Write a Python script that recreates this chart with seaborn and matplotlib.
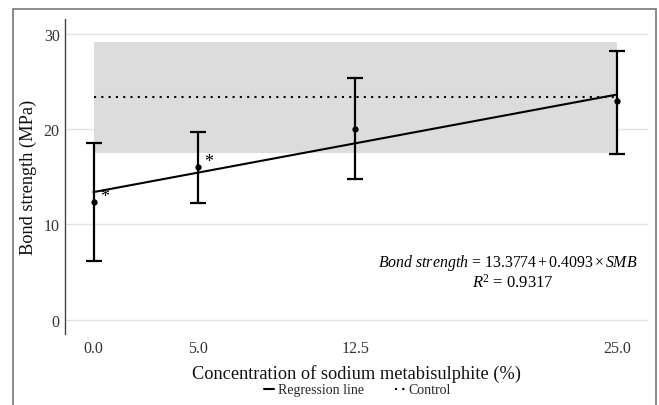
import numpy as np
import pandas as pd
import matplotlib.pyplot as plt
import seaborn as sns
from matplotlib.lines import Line2D
from matplotlib.patches import Rectangle

# datos
smb = [0.0, 5.0, 12.5, 25.0]
mean_strength = [12.3, 16.0, 20.0, 22.9]
err_low = [6.1, 12.2, 14.7, 17.4]
err_high = [18.5, 19.7, 25.3, 28.2]
control_mean = 23.3
control_low = 17.5
control_high = 29.1
intercept = 13.3774
slope = 0.4093
r2 = 0.9317
tick_labels = ['0.0', '5.0', '12.5', '25.0']

sns.set_theme(style='whitegrid')
plt.rcParams['font.family'] = ['Liberation Serif', 'DejaVu Serif']
plt.rcParams['mathtext.fontset'] = 'custom'
plt.rcParams['mathtext.rm'] = 'Liberation Serif'
plt.rcParams['mathtext.it'] = 'Liberation Serif:italic'

fig = plt.figure(figsize=(6.59, 4.06), dpi=100)
ax = fig.add_axes([0.099, 0.175, 0.885, 0.775])

# marco gris de la figura
fig.add_artist(Rectangle((0.02, -0.1), 0.975, 1.075, transform=fig.transFigure,
                         fill=False, edgecolor='#777777', linewidth=1.2))

# banda del control
ax.fill_between([smb[0], smb[-1]], control_low, control_high, color='#dcdcdc', zorder=1, linewidth=0)

df_ctrl = pd.DataFrame({'x': [smb[0], smb[-1]], 'y': [control_mean, control_mean]})
sns.lineplot(data=df_ctrl, x='x', y='y', ax=ax, color='black', linestyle=(0, (1, 2.5)),
             linewidth=1.5, zorder=3)

xr = np.array([smb[0], smb[-1]])
df_reg = pd.DataFrame({'x': xr, 'y': intercept + slope * xr})
sns.lineplot(data=df_reg, x='x', y='y', ax=ax, color='black', linewidth=1.5, zorder=4)

mean_arr = np.array(mean_strength)
yerr = [mean_arr - np.array(err_low), np.array(err_high) - mean_arr]
ax.errorbar(smb, mean_strength, yerr=yerr, fmt='o', color='black', markersize=3.5,
            elinewidth=1.6, capsize=6, capthick=1.6, zorder=5)

# asteriscos
for i in [0, 1]:
    ax.text(smb[i] + 0.3, mean_strength[i] - 0.3, '*', fontsize=13, ha='left', va='bottom',
            color='black', zorder=6)

ax.text(26.0, 6.0, r'$Bond\ strength$ = %.4f$\,$+$\,$%.4f$\,$×$\,$$SMB$' % (intercept, slope),
        fontsize=11.4, ha='right', va='center', color='black')
ax.text(20.0, 4.0, r'$R$$^2$ = %.4f' % r2, fontsize=12, ha='center', va='center', color='black')

ax.set_xlim(-1.35, 26.5)
ax.set_ylim(-1.5, 31.5)
ax.set_xticks(smb)
ax.set_xticklabels(tick_labels)
ax.set_yticks([0, 10, 20, 30])
ax.tick_params(axis='both', labelsize=11.5, labelcolor='#333333', length=0, pad=4)
ax.grid(axis='x', visible=False)
ax.grid(axis='y', color='#e3e3e3', linewidth=1)
for s in ['top', 'right', 'bottom']:
    ax.spines[s].set_visible(False)
ax.spines['left'].set_color('#444444')
ax.spines['left'].set_linewidth(1)

ax.set_xlabel('Concentration of sodium metabisulphite (%)', fontsize=13.2, labelpad=6, color='#111111')
ax.set_ylabel('Bond strength (MPa)', fontsize=13.2, labelpad=5, color='#111111')

handles = [Line2D([], [], color='black', linewidth=1.5),
           Line2D([], [], color='black', linestyle=(0, (1, 2.5)), linewidth=1.5)]
fig.legend(handles, ['Regression line', 'Control'], loc='center', bbox_to_anchor=(0.543, 0.037),
           ncol=2, frameon=False, fontsize=10, handlelength=0.7, handletextpad=0.3, columnspacing=2.2)

fig.savefig('out.png', dpi=100)
